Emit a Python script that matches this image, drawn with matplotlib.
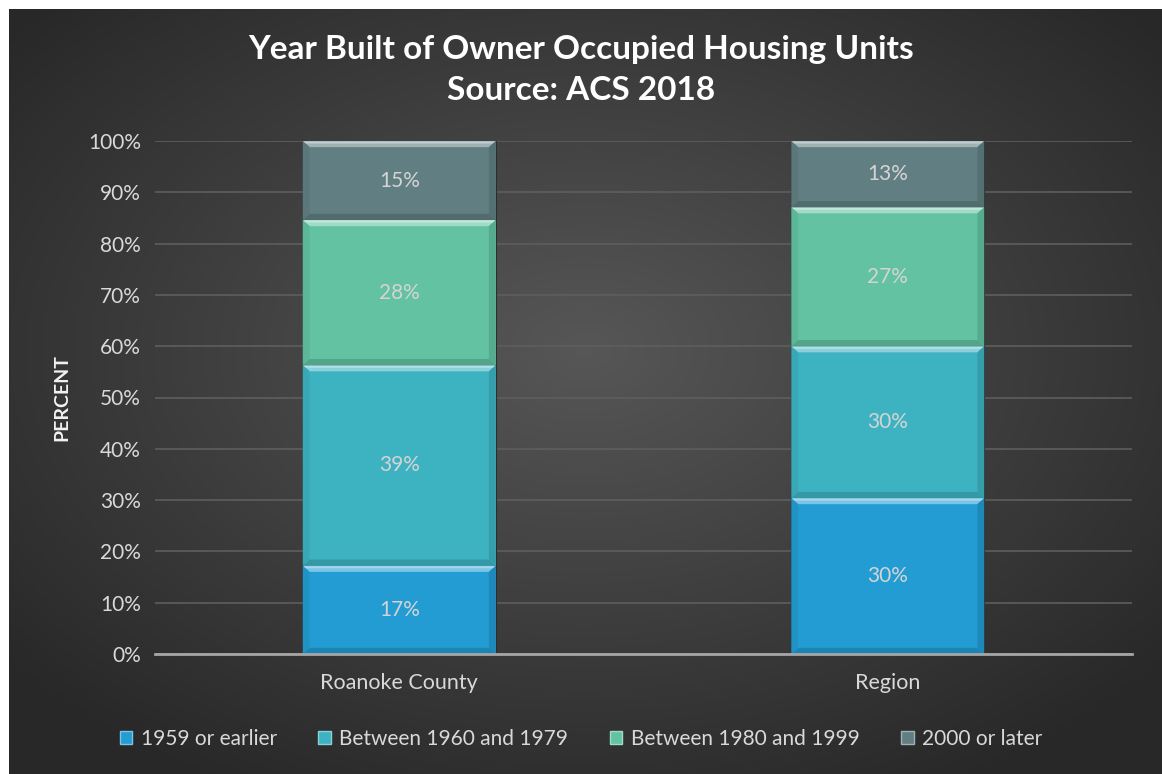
import numpy as np
import matplotlib.pyplot as plt
from matplotlib.patches import Polygon, Rectangle
from matplotlib.colors import to_rgb

plt.rcParams['font.family'] = ['Lato', 'DejaVu Sans']

areas = ["Roanoke County", "Region"]
periods = ["1959 or earlier", "Between 1960 and 1979", "Between 1980 and 1999", "2000 or later"]
p_1959 = [17.2, 30.4]
p_1960_79 = [39.1, 29.6]
p_1980_99 = [28.3, 27.1]
p_2000 = [15.4, 12.9]
labels = [["17%", "30%"], ["39%", "30%"], ["28%", "27%"], ["15%", "13%"]]
colors = ["#229cd2", "#3db3c2", "#62c2a2", "#617f82"]

series = [p_1959, p_1960_79, p_1980_99, p_2000]


def shade(c, f):
    r = np.array(to_rgb(c))
    if f > 0:
        return tuple(r + (1 - r) * f)
    return tuple(r * (1 + f))


fig = plt.figure(figsize=(11.62, 7.74), dpi=100)
fig.patch.set_facecolor("white")
fig.patches.append(Rectangle((9 / 1162, 0), 1, 1 - 9 / 774, transform=fig.transFigure,
                             facecolor="#2b2b2b", lw=0, zorder=-10))

# dark radial gradient background
bg = fig.add_axes([9 / 1162, 0, 1 - 9 / 1162, 1 - 9 / 774])
yy, xx = np.mgrid[-1:1:300j, -1:1:450j]
rr = np.sqrt((xx / 1.05) ** 2 + (yy * 0.95 + 0.1) ** 2)
val = np.clip(0.34 - 0.15 * rr, 0.16, 1)
bg.imshow(np.dstack([val, val, val]), aspect="auto", extent=[-0.01, 1.01, -0.01, 1.01],
          interpolation="bilinear")
bg.set_xlim(0, 1)
bg.set_ylim(0, 1)
bg.set_axis_off()

ax = fig.add_axes([155 / 1162, 1 - 654 / 774, 977 / 1162, 513 / 774])
ax.set_facecolor("none")
x = np.arange(len(areas))
w = 0.395
bx = 0.014   # bevel width in data units
by = 1.2     # bevel height in percent

bottom = np.zeros(len(areas))
for vals, c, lab in zip(series, colors, labels):
    vals = np.array(vals)
    ax.bar(x, vals, w, bottom=bottom, color=c, edgecolor="#263034", linewidth=0.8, zorder=2)
    for i in range(len(areas)):
        l, r = x[i] - w / 2, x[i] + w / 2
        b, t = bottom[i], bottom[i] + vals[i]
        # top highlight
        ax.add_patch(Polygon([(l, t), (r, t), (r - bx, t - by), (l + bx, t - by)],
                             closed=True, color=shade(c, 0.4), lw=0, zorder=3))
        ax.add_patch(Polygon([(l, t - 0.1), (r, t - 0.1), (r - 0.004, t - 0.5), (l + 0.004, t - 0.5)],
                             closed=True, color=shade(c, 0.6), lw=0, zorder=3))
        # bottom shadow
        ax.add_patch(Polygon([(l, b), (r, b), (r - bx, b + by), (l + bx, b + by)],
                             closed=True, color=shade(c, -0.15), lw=0, zorder=3))
        # sides
        ax.add_patch(Polygon([(l, b), (l, t), (l + bx, t - by), (l + bx, b + by)],
                             closed=True, color=shade(c, -0.06), lw=0, zorder=3))
        ax.add_patch(Polygon([(r, b), (r, t), (r - bx, t - by), (r - bx, b + by)],
                             closed=True, color=shade(c, -0.12), lw=0, zorder=3))
        ax.text(x[i], b + vals[i] / 2, lab[i], ha="center", va="center",
                color="#d4d4d4", fontsize=15, zorder=4)
    bottom += vals

ax.set_xlim(-0.5, 1.5)
ax.set_ylim(0, 100)
ax.set_yticks(np.arange(0, 101, 10))
ax.set_yticklabels([f"{v}%" for v in range(0, 101, 10)])
ax.set_xticks(x)
ax.set_xticklabels(areas)
ax.tick_params(axis="y", colors="#d9d9d9", labelsize=15, length=0, pad=10)
ax.tick_params(axis="x", colors="#d9d9d9", labelsize=15.5, length=0, pad=14)
ax.grid(axis="y", color="#5e5e5e", linewidth=1.2, zorder=0)
ax.set_axisbelow(True)
for s in ["top", "right", "left"]:
    ax.spines[s].set_visible(False)
ax.spines["bottom"].set_color("#a6a6a6")
ax.spines["bottom"].set_linewidth(2)
ax.spines["bottom"].set_zorder(5)

ax.set_ylabel("PERCENT", color="#f2f2f2", fontsize=14, fontweight="bold", labelpad=13)

fig.text(0.5, 1 - 50 / 774, "Year Built of Owner Occupied Housing Units",
         ha="center", va="center", color="white", fontsize=24, fontweight="bold")
fig.text(0.5, 1 - 90 / 774, "Source: ACS 2018",
         ha="center", va="center", color="white", fontsize=24, fontweight="bold")

handles = [Rectangle((0, 0), 1, 1, facecolor=c, edgecolor=shade(c, 0.4), linewidth=1) for c in colors]
fig.legend(handles, periods, loc="center", bbox_to_anchor=(0.5, 1 - 739 / 774), ncol=4,
           frameon=False, fontsize=15, labelcolor="#d9d9d9", handlelength=0.6,
           handleheight=0.6, handletextpad=0.4, columnspacing=2.0)

fig.savefig("out.png", dpi=100)
